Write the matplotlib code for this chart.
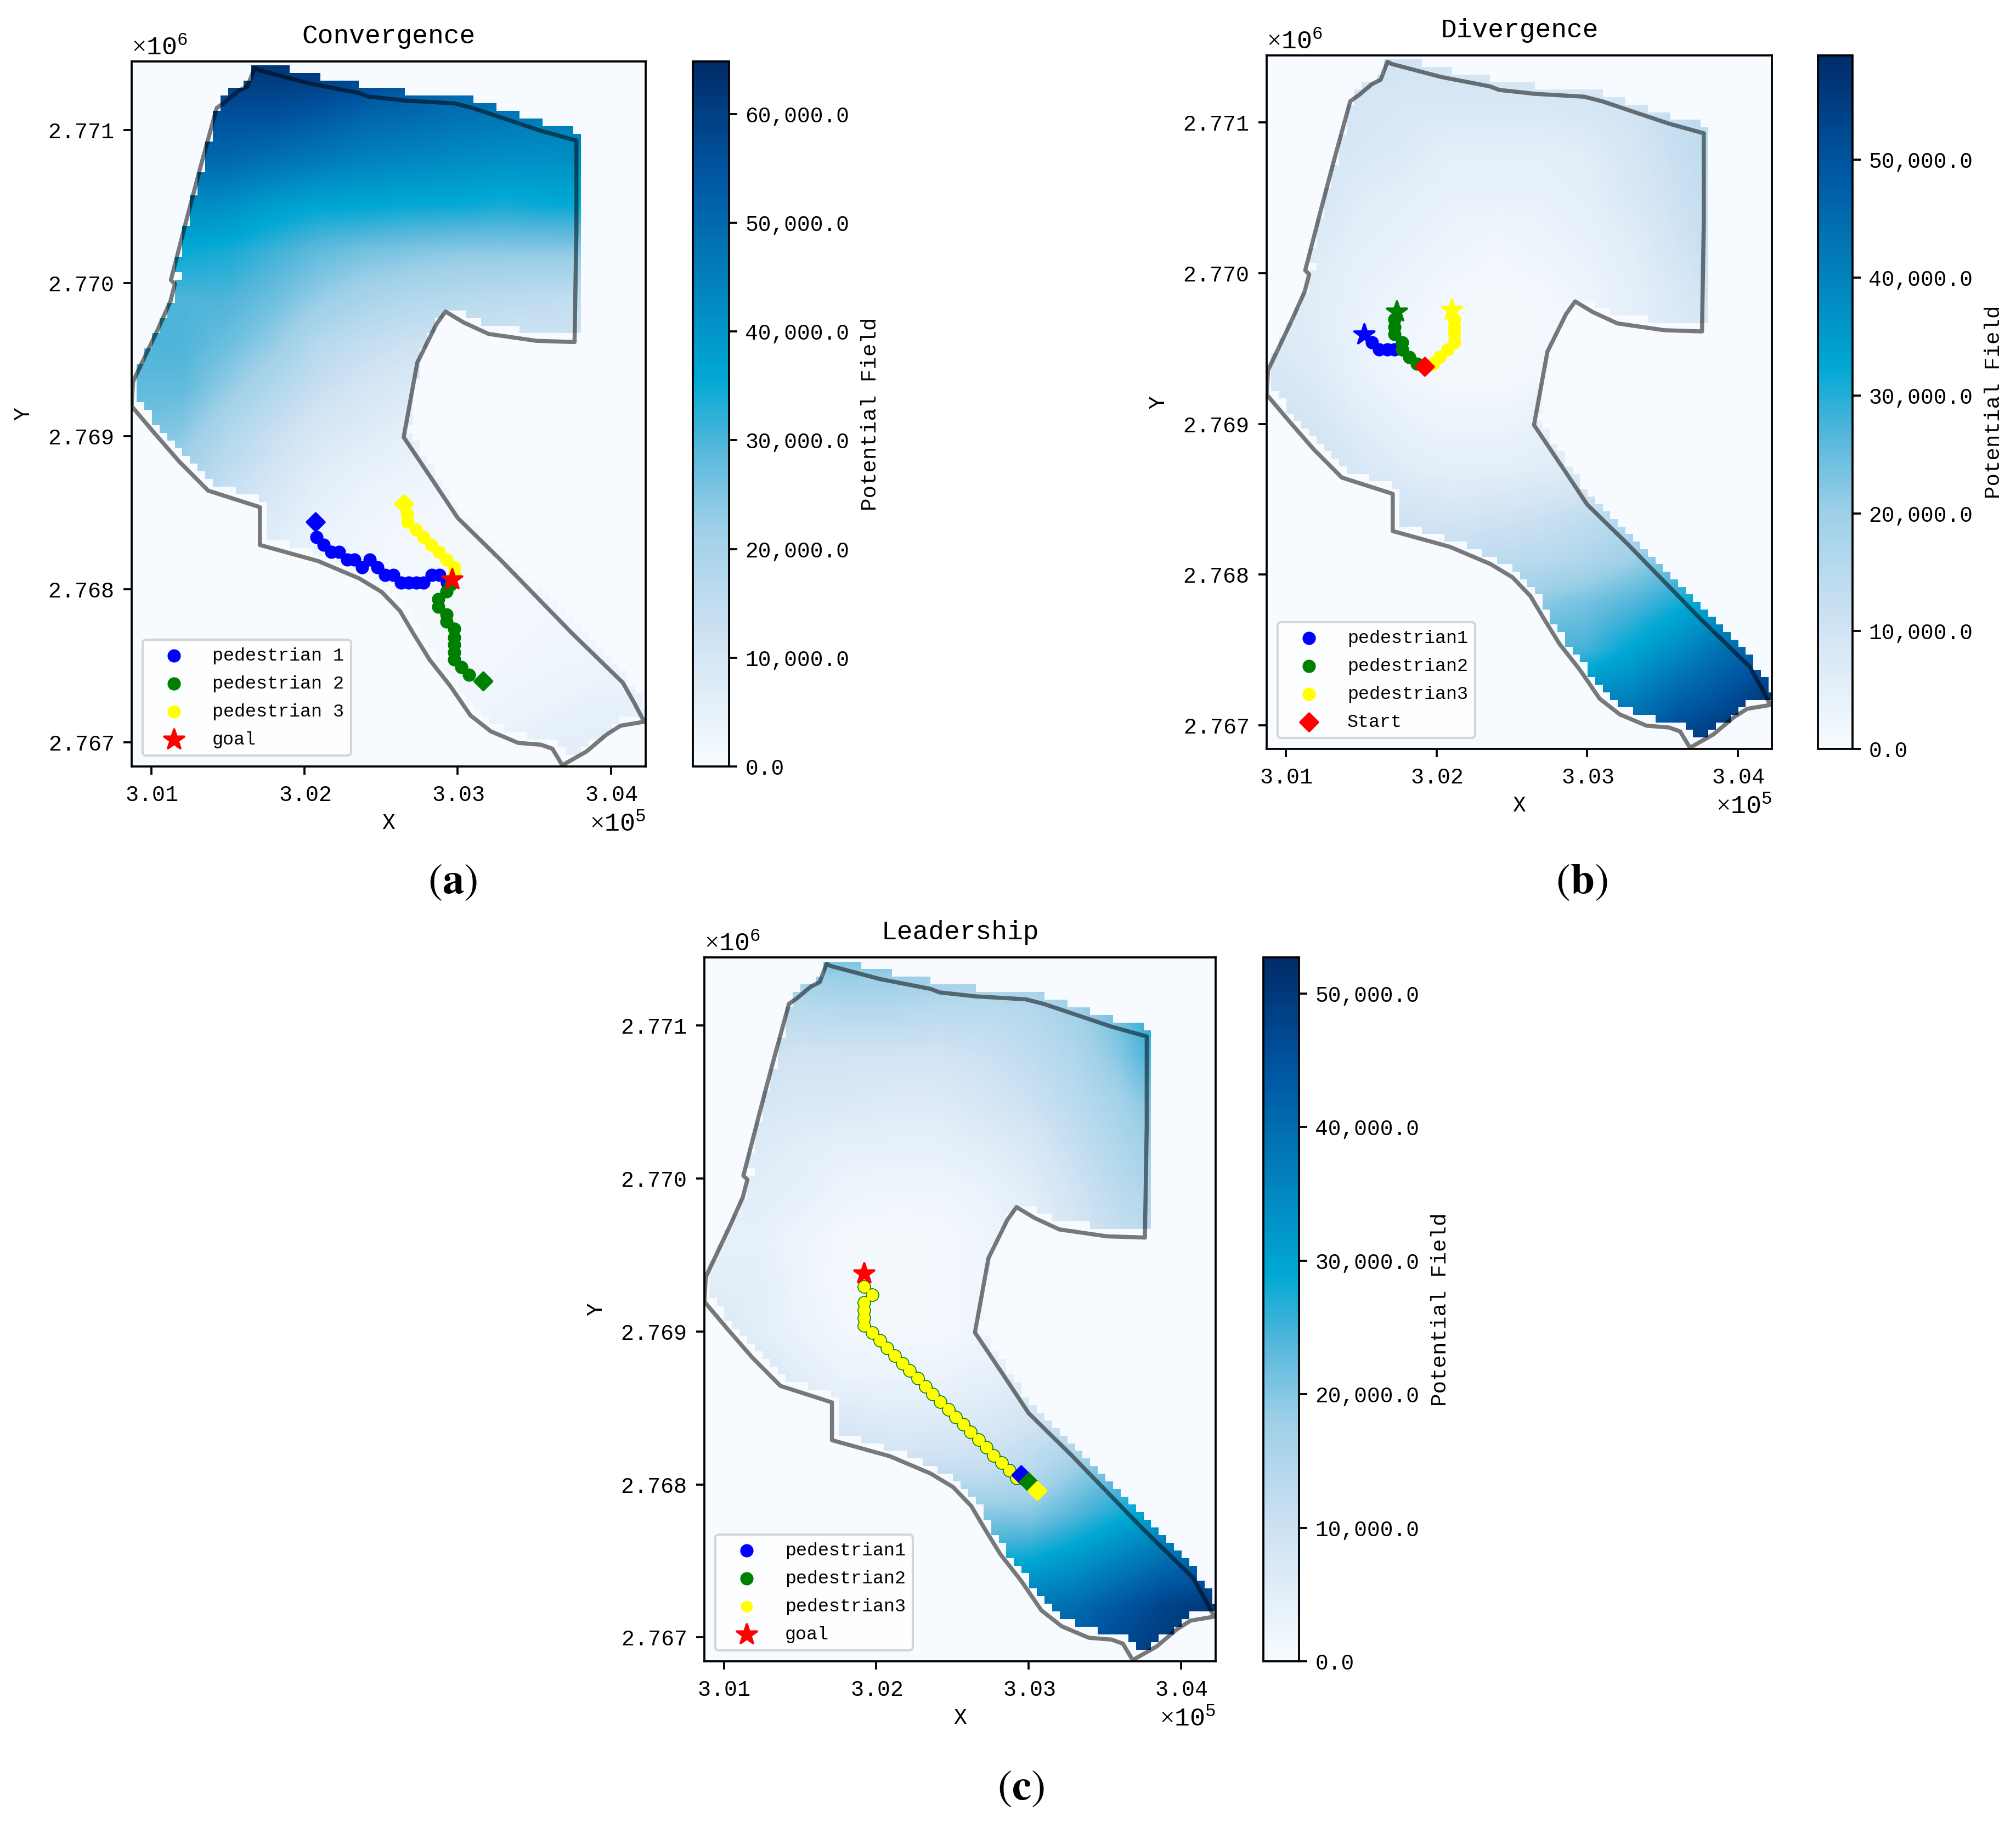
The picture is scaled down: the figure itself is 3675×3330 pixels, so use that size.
import matplotlib
matplotlib.use("Agg")
import matplotlib.pyplot as plt
import numpy as np
from matplotlib.colors import LinearSegmentedColormap, to_rgba
from matplotlib.path import Path
from matplotlib.ticker import FuncFormatter, ScalarFormatter

plt.rcParams["font.family"] = ["Liberation Mono", "DejaVu Sans"]
plt.rcParams["mathtext.fontset"] = "custom"
plt.rcParams["mathtext.rm"] = "Liberation Serif"
plt.rcParams["mathtext.it"] = "Liberation Serif:italic"
plt.rcParams["mathtext.bf"] = "Liberation Serif:bold"

W, H = 3675, 3330

# study area outline, same in all panels
bound_x = [300881, 301036, 301125, 301154, 301128, 301228, 301317, 301427, 301481, 301570, 301629, 301674,
           301703, 302030, 302356, 302415, 302653, 302979, 303098, 303543, 303774, 303774, 303762, 303513,
           303201, 303038, 302920, 302860, 302736, 302647, 302831, 303000, 303276, 303750, 304077, 304151,
           304216, 304062, 303973, 303839, 303682, 303617, 303543, 303394, 303216, 303083, 302949, 302816,
           302712, 302623, 302504, 302356, 302089, 301709, 301709, 301371, 301184, 301021, 300872, 300881]
bound_y = [2769356, 2769682, 2769880, 2769993, 2770019, 2770405, 2770742, 2771142, 2771180, 2771255, 2771285, 2771404,
           2771389, 2771303, 2771240, 2771217, 2771191, 2771172, 2771142, 2770993, 2770929, 2770348, 2769614, 2769622,
           2769667, 2769742, 2769813, 2769730, 2769480, 2768993, 2768719, 2768465, 2768195, 2767708, 2767390, 2767259,
           2767135, 2767109, 2767053, 2766940, 2766851, 2766959, 2766985, 2766997, 2767072, 2767176, 2767371, 2767540,
           2767708, 2767858, 2767982, 2768071, 2768184, 2768289, 2768536, 2768644, 2768832, 2769019, 2769195, 2769356]

# potential field, in thousands
# columns x = 300900..304200, rows y = 2771400..2766900, both every 300
field_a = [
    [62, 62, 62, 62, 62, 60, 55, 52, 50, 48, 48, 48],
    [55, 55, 56, 56, 54, 51, 50, 48, 47, 46, 46, 46],
    [50, 50, 50, 48, 46, 44, 43, 42, 41, 41, 42, 42],
    [42, 42, 41, 38, 36, 36, 35, 35, 34, 35, 35, 35],
    [35, 35, 34, 31, 28, 26, 25, 24, 24, 24, 24, 24],
    [30, 30, 30, 27, 23, 20, 18, 17, 16, 15, 14, 14],
    [30, 30, 27, 23, 17, 14, 12, 11, 11, 11, 11, 11],
    [28, 28, 23, 18, 13, 10, 8, 7, 7, 7, 7, 7],
    [26, 24, 18, 13, 9, 7, 5, 4, 4, 4, 4, 4],
    [20, 20, 14, 10, 6, 4, 3, 2.5, 2, 2, 2, 2],
    [14, 14, 10, 7, 4, 2.5, 1.5, 1, 1, 1, 1, 1],
    [10, 10, 8, 6, 3, 2, 1, 1, 1, 1.5, 2, 2],
    [6, 6, 6, 5, 3, 2, 1, 1, 1.5, 2, 2, 2],
    [4, 4, 4, 4, 3, 2, 1.5, 1.5, 2, 2.5, 3, 3],
    [3, 3, 3, 3, 3, 3, 2, 2.5, 3, 4, 5, 5],
    [3, 3, 3, 3, 3, 3, 3, 4, 5, 6, 6, 6],
]
field_b = [
    [10, 10, 10, 10, 10, 10, 10, 10, 11, 12, 12, 12],
    [10, 10, 9, 8, 8, 8, 8, 9, 10, 13, 15, 15],
    [10, 9, 8, 7, 5, 5, 5, 6, 9, 12, 15, 15],
    [9, 9, 6, 5, 4, 4, 4, 5, 8, 11, 14, 14],
    [8, 7, 5, 4, 3, 2, 3, 4, 6, 10, 13, 13],
    [8, 6, 4, 3, 1.5, 1, 1.5, 3, 5, 8, 12, 12],
    [7, 6, 3.5, 2, 0.5, 0.5, 1, 2, 5, 7, 9, 9],
    [9, 7, 4, 2, 1, 1, 2, 3, 5, 7, 8, 8],
    [11, 9, 6, 4, 3, 3, 4, 5, 6, 8, 9, 9],
    [12, 11, 8, 6, 5, 5, 6, 7, 9, 11, 12, 12],
    [13, 13, 11, 10, 9, 10, 11, 13, 15, 17, 20, 20],
    [14, 14, 13, 12, 13, 14, 15, 17, 20, 24, 27, 27],
    [18, 18, 18, 18, 19, 20, 22, 24, 27, 31, 36, 36],
    [25, 25, 25, 26, 26, 26, 27, 28, 33, 38, 44, 48],
    [38, 38, 38, 38, 38, 38, 38, 38, 40, 46, 50, 55],
    [46, 46, 46, 46, 46, 46, 46, 46, 48, 53, 57, 58],
]
field_c = [
    [20, 20, 20, 20, 20, 20, 18, 18, 20, 22, 24, 24],
    [13, 13, 13, 14, 14, 13, 13, 14, 17, 22, 30, 30],
    [10, 10, 9, 9, 9, 9, 10, 12, 15, 20, 27, 27],
    [8, 8, 7, 7, 6, 6, 8, 10, 13, 17, 22, 22],
    [6, 6, 5, 4, 4, 4, 5, 7, 11, 15, 19, 19],
    [5, 5, 4, 2.5, 2, 2, 3, 5, 9, 13, 16, 16],
    [4, 4, 2.5, 1, 0.8, 1, 2, 4, 8, 11, 14, 14],
    [5, 5, 2.5, 0.8, 0.5, 1, 2, 3, 6, 8, 10, 10],
    [7, 5, 3, 1.5, 1, 1, 2, 3, 5, 7, 8, 8],
    [9, 8, 5, 3, 3, 3, 4, 5, 7, 8, 9, 9],
    [11, 10, 8, 7, 6, 6, 7, 9, 11, 14, 16, 16],
    [14, 14, 13, 11, 10, 11, 11, 13, 18, 22, 24, 24],
    [18, 18, 18, 18, 18, 20, 20, 20, 24, 28, 32, 32],
    [25, 25, 25, 25, 26, 28, 28, 29, 32, 36, 40, 42],
    [38, 38, 38, 38, 38, 38, 38, 38, 40, 44, 48, 50],
    [42, 42, 42, 42, 42, 42, 42, 42, 44, 47, 50, 50],
]

# panel a trajectories
p1_a_x = [302078, 302126, 302176, 302226, 302278, 302326, 302377, 302425, 302475, 302527, 302578, 302628, 302678, 302728, 302778, 302829, 302879, 302929]
p1_a_y = [2768341, 2768291, 2768242, 2768242, 2768192, 2768192, 2768143, 2768192, 2768143, 2768093, 2768093, 2768044, 2768044, 2768044, 2768044, 2768093, 2768093, 2768044]
p2_a_x = [303075, 303025, 302975, 302975, 302975, 302975, 302975, 302925, 302925, 302874, 302874, 302925, 302955]
p2_a_y = [2767441, 2767491, 2767540, 2767587, 2767637, 2767686, 2767743, 2767788, 2767837, 2767887, 2767936, 2767986, 2768032]
p3_a_x = [302669, 302673, 302726, 302776, 302826, 302877, 302927, 302977, 302977]
p3_a_y = [2768492, 2768440, 2768390, 2768341, 2768291, 2768242, 2768192, 2768143, 2768096]
start_a_x = [302073, 303167, 302651]
start_a_y = [2768438, 2767399, 2768556]
goal_a = (302961, 2768064)

# panel b trajectories
p1_b_x = [301570, 301620, 301672, 301722, 301771]
p1_b_y = [2769542, 2769493, 2769493, 2769493, 2769493]
p2_b_x = [301722, 301722, 301722, 301771, 301771, 301820, 301869]
p2_b_y = [2769695, 2769645, 2769596, 2769542, 2769493, 2769443, 2769398]
p3_b_x = [302118, 302118, 302118, 302118, 302073, 302020, 301975]
p3_b_y = [2769695, 2769645, 2769596, 2769542, 2769493, 2769443, 2769398]
end_b_x = [301521, 301737, 302103]
end_b_y = [2769592, 2769744, 2769755]
start_b = (301922, 2769382)

# panel c trajectories, all three walk the same way
p_c_x = [301921, 301974, 301921, 301921, 301921, 301921, 301974, 302023, 302072, 302121, 302170, 302219, 302272, 302321,
         302370, 302419, 302472, 302521, 302570, 302619, 302672, 302721, 302770, 302823, 302872, 302921]
p_c_y = [2769292, 2769238, 2769189, 2769139, 2769090, 2769040, 2768991, 2768941, 2768891, 2768842, 2768792, 2768743, 2768693, 2768640,
         2768590, 2768540, 2768491, 2768441, 2768392, 2768342, 2768292, 2768243, 2768190, 2768140, 2768091, 2768041]
start_c_x = [302951, 303000, 303057]
start_c_y = [2768060, 2768014, 2767957]
goal_c = (301921, 2769380)

x_ticks = [301000, 302000, 303000, 304000]
y_ticks = [2767000, 2768000, 2769000, 2770000, 2771000]
x_lim = (300872, 304226)
y_lim = (2766843, 2771446)

cmap = LinearSegmentedColormap.from_list("field", [
    (0.0, "#f7fbff"), (0.17, "#d2e4f4"), (0.34, "#9ed0e8"), (0.46, "#4fb5da"),
    (0.55, "#00a8d4"), (0.68, "#0283bd"), (0.85, "#00539f"), (1.0, "#012c69")])
bg = "#f7fbff"


def px_axes(fig, left, right, top, bottom):
    return fig.add_axes([left / W, 1 - bottom / H, (right - left) / W, (bottom - top) / H])


def outside_overlay():
    # 50 m cells of the raster; the field sits about 25 m right, 50 m up of the outline
    cx = np.arange(x_lim[0] + 6, x_lim[1] + 50, 50)
    cy = np.arange(y_lim[0] + 1, y_lim[1] + 50, 50)
    xx, yy = np.meshgrid(cx, cy)
    shape = Path(np.column_stack([np.array(bound_x) + 25, np.array(bound_y) + 50]))
    inside = shape.contains_points(np.column_stack([xx.ravel(), yy.ravel()])).reshape(xx.shape)
    rgba = np.zeros(xx.shape + (4,))
    rgba[...] = to_rgba(bg)
    rgba[inside, 3] = 0
    extent = [cx[0] - 25, cx[-1] + 25, cy[0] - 25, cy[-1] + 25]
    return rgba, extent


def draw_panel(fig, box, cbar_box, field, vmax, title):
    ax = px_axes(fig, *box)
    ax.set_facecolor(bg)
    arr = np.array(field) * 1000.0
    im = ax.imshow(arr, cmap=cmap, vmin=0, vmax=vmax, aspect="auto", interpolation="bilinear",
                   extent=[300750, 304350, 2766750, 2771550], origin="upper", zorder=1)
    rgba, extent = outside_overlay()
    ax.imshow(rgba, aspect="auto", interpolation="nearest", extent=extent, origin="lower", zorder=2)
    ax.plot(bound_x, bound_y, color="k", alpha=0.52, lw=1.8, zorder=3)
    ax.set_xlim(*x_lim)
    ax.set_ylim(*y_lim)
    ax.set_xticks(x_ticks)
    ax.set_yticks(y_ticks)
    for axis, power in ((ax.xaxis, 5), (ax.yaxis, 6)):
        fmt = ScalarFormatter(useMathText=True, useOffset=False)
        fmt.set_powerlimits((power, power))
        axis.set_major_formatter(fmt)
    ax.tick_params(labelsize=9.6, width=0.9, length=3.5, pad=4.5)
    ax.xaxis.get_offset_text().set_fontsize(11.2)
    ax.yaxis.get_offset_text().set_fontsize(11.2)
    ax.set_xlabel("X", fontsize=9.5, labelpad=3)
    ax.set_ylabel("Y", fontsize=9.5, labelpad=6)
    ax.set_title(title, fontsize=11.5, pad=8)
    for s in ax.spines.values():
        s.set_linewidth(0.9)

    cax = px_axes(fig, *cbar_box)
    cb = fig.colorbar(im, cax=cax, format=FuncFormatter(lambda v, _: f"{v:,.1f}"))
    cb.set_ticks(np.arange(0, vmax, 10000))
    cb.ax.tick_params(labelsize=9.5, width=0.9, length=3.5)
    cb.set_label("Potential Field", fontsize=9.4, labelpad=5)
    cb.outline.set_linewidth(0.9)
    return ax


def add_legend(ax):
    ax.legend(loc="lower left", fontsize=8, handlelength=2.6, borderaxespad=0.6, labelspacing=0.6)


fig = plt.figure(figsize=(W / 300, H / 300))
dot = 23
dia = 30
star = 85

ax = draw_panel(fig, (240, 1177, 112, 1397), (1263, 1329, 112, 1397), field_a, 64840, "Convergence")
ax.scatter(p1_a_x, p1_a_y, s=dot, c="blue", label="pedestrian 1", zorder=4)
ax.scatter(p2_a_x, p2_a_y, s=dot, c="green", label="pedestrian 2", zorder=4)
ax.scatter(p3_a_x, p3_a_y, s=dot, c="yellow", label="pedestrian 3", zorder=4)
ax.scatter(start_a_x, start_a_y, s=dia, c=["blue", "green", "yellow"], marker="D", zorder=4)
ax.scatter(*goal_a, s=star, c="red", marker="*", label="goal", zorder=5)
add_legend(ax)

ax = draw_panel(fig, (2309, 3230, 101, 1365), (3314, 3377, 101, 1365), field_b, 58860, "Divergence")
ax.scatter(p1_b_x, p1_b_y, s=dot, c="blue", label="pedestrian1", zorder=4)
ax.scatter(p2_b_x, p2_b_y, s=dot, c="green", label="pedestrian2", zorder=4)
ax.scatter(p3_b_x, p3_b_y, s=dot, c="yellow", label="pedestrian3", zorder=4)
ax.scatter(end_b_x, end_b_y, s=star, c=["blue", "green", "yellow"], marker="*", zorder=4)
ax.scatter(*start_b, s=dia, c="red", marker="D", label="Start", zorder=5)
add_legend(ax)

ax = draw_panel(fig, (1284, 2216, 1745, 3028), (2303, 2368, 1745, 3028), field_c, 52690, "Leadership")
ax.scatter(p_c_x, p_c_y, s=dot, c="blue", label="pedestrian1", zorder=4)
ax.scatter(p_c_x, p_c_y, s=dot, c="green", label="pedestrian2", zorder=4)
ax.scatter(p_c_x, p_c_y, s=dot * 0.75, c="yellow", label="pedestrian3", zorder=4)
ax.scatter(start_c_x, start_c_y, s=dia, c=["blue", "green", "yellow"], marker="D", zorder=4)
ax.scatter(*goal_c, s=star, c="red", marker="*", label="goal", zorder=5)
add_legend(ax)

for label, x, y in (("a", 825, 1608), ("b", 2883, 1608), ("c", 1861, 3260)):
    fig.text(x / W, 1 - y / H, rf"$(\mathbf{{{label}}})$", fontsize=19, ha="center", va="center", math_fontfamily="stix")

fig.savefig("out.png", dpi=300, facecolor="white")
plt.close(fig)
